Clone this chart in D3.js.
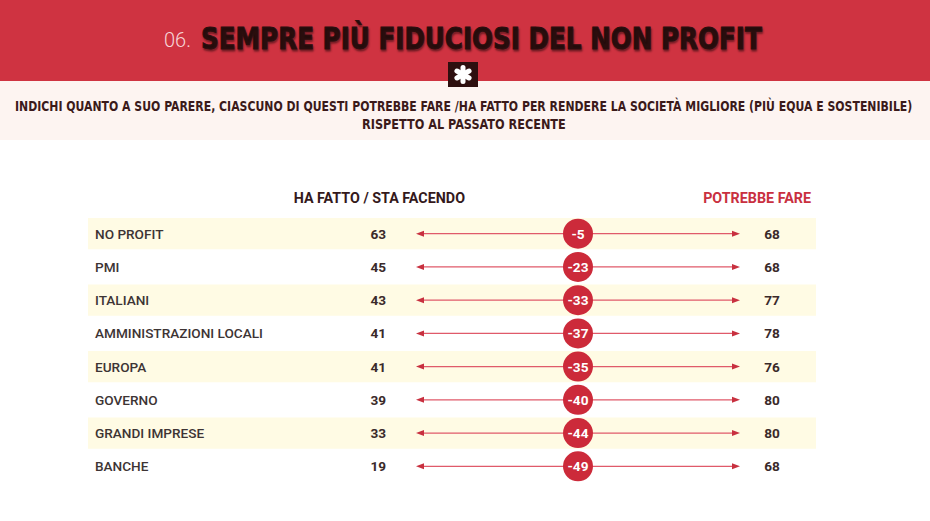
<!DOCTYPE html>
<html><head><meta charset="utf-8">
<script src="https://cdn.jsdelivr.net/npm/d3@7"></script>
<style>
html,body{margin:0;padding:0;background:#fff;}
svg{display:block;}
</style></head>
<body>
<svg id="chart" width="930" height="521"></svg>
<script>
const categories = ["NO PROFIT","PMI","ITALIANI","AMMINISTRAZIONI LOCALI","EUROPA","GOVERNO","GRANDI IMPRESE","BANCHE"];
const haFatto = [63,45,43,41,41,39,33,19];
const potrebbeFare = [68,68,77,78,76,80,80,68];
const differenza = [-5,-23,-33,-37,-35,-40,-44,-49];
const columnHeaders = ["HA FATTO / STA FACENDO","POTREBBE FARE"];
const titleNum = "06.";
const titleText = "SEMPRE PIÙ FIDUCIOSI DEL NON PROFIT";
const subtitle = ["INDICHI QUANTO A SUO PARERE, CIASCUNO DI QUESTI POTREBBE FARE /HA FATTO PER RENDERE LA SOCIETÀ MIGLIORE (PIÙ EQUA E SOSTENIBILE)","RISPETTO AL PASSATO RECENTE"];

const W = 930, H = 521;
const svg = d3.select("#chart");
const RED = "#cf3341", DARK = "#3b1a1a";
const condensed = "'DejaVu Sans Condensed','Liberation Sans Narrow',sans-serif";
const body = "Roboto,'Open Sans',sans-serif";

// fit a text horizontally to a target width by scaling
function fitX(sel, x0, targetW, anchor){
  const n = sel.node();
  const w = n.getComputedTextLength();
  const s = targetW / w;
  const y0 = +sel.attr("y");
  sel.attr("x",0).attr("y",0).attr("text-anchor","start");
  const left = anchor === "middle" ? x0 - targetW/2 : x0;
  sel.attr("transform",`translate(${left},${y0}) scale(${s},1)`);
}

// header
svg.append("rect").attr("x",0).attr("y",0).attr("width",W).attr("height",81).attr("fill",RED);
svg.append("rect").attr("x",0).attr("y",81).attr("width",W).attr("height",59).attr("fill","#fdf4f1");
svg.append("text").attr("x",164).attr("y",47).attr("font-family",body).attr("font-size",20)
  .attr("font-weight",300).attr("fill","#f7d6d8").text(titleNum);
const t = svg.append("text").attr("y",49).attr("font-family",condensed)
  .attr("font-size",30).attr("font-weight",700).attr("fill","#2b0e0e")
  .attr("stroke","#2b0e0e").attr("stroke-width",0.9)
  .style("text-shadow","1px 2px 2px rgba(0,0,0,0.4)").text(titleText);
fitX(t, 201, 561, "start");
// asterisk box
svg.append("rect").attr("x",448).attr("y",62).attr("width",30).attr("height",25).attr("fill","#2e0f0f");
const ast = svg.append("g").attr("transform","translate(463,74.5)");
ast.selectAll("line").data([0,60,120]).join("line")
  .attr("x1",0).attr("y1",-7).attr("x2",0).attr("y2",7)
  .attr("transform",d=>`rotate(${d})`)
  .attr("stroke","#fff").attr("stroke-width",5).attr("stroke-linecap","round");
// subtitle
const s1 = svg.append("text").attr("y",111).attr("font-family",condensed).attr("font-size",14.5)
  .attr("font-weight",700).attr("fill",DARK).text(subtitle[0]);
fitX(s1, 15, 898, "start");
const s2 = svg.append("text").attr("y",129).attr("font-family",condensed).attr("font-size",14.5)
  .attr("font-weight",700).attr("fill",DARK).text(subtitle[1]);
fitX(s2, 464, 204, "middle");

// rows
const y = d3.scaleBand().domain(categories).range([218,482]).paddingInner(0.06);
const rows = svg.append("g").selectAll("g").data(categories).join("g")
  .attr("transform",d=>`translate(0,${y(d)+y.bandwidth()/2})`);

rows.filter((d,i)=>i%2===0).append("rect").attr("x",88).attr("y",-y.bandwidth()/2).attr("width",728)
  .attr("height",y.bandwidth()).attr("fill","#fffbe4");

svg.append("text").attr("x",465).attr("y",203).attr("text-anchor","end").attr("font-family",body)
  .attr("font-size",14.3).attr("font-weight",700).attr("fill","#34191b").text(columnHeaders[0]);
svg.append("text").attr("x",811).attr("y",203).attr("text-anchor","end").attr("font-family",body)
  .attr("font-size",14.3).attr("font-weight",700).attr("fill","#c9303f").text(columnHeaders[1]);

rows.append("text").attr("x",95).attr("dy","0.36em").attr("font-family",body).attr("font-size",13.6)
  .attr("font-weight",500).attr("fill","#3d3434").text(d=>d);
rows.append("text").attr("x",386).attr("dy","0.36em").attr("text-anchor","end").attr("font-family",body)
  .attr("font-size",13.6).attr("font-weight",700).attr("fill","#3a2a2a").text((d,i)=>haFatto[i]);
rows.append("text").attr("x",772).attr("dy","0.36em").attr("text-anchor","middle").attr("font-family",body)
  .attr("font-size",13.6).attr("font-weight",700).attr("fill","#3a2a2a").text((d,i)=>potrebbeFare[i]);

// arrows
rows.append("line").attr("x1",420).attr("x2",736).attr("y1",0).attr("y2",0).attr("stroke","#e05a6a").attr("stroke-width",1.2);
rows.append("path").attr("d","M416,0 L424,-3 L424,3Z").attr("fill","#c8303f");
rows.append("path").attr("d","M740,0 L732,-3 L732,3Z").attr("fill","#c8303f");
rows.append("circle").attr("cx",578).attr("cy",0).attr("r",15).attr("fill","#cc2a3a");
rows.append("text").attr("x",578).attr("dy","0.36em").attr("text-anchor","middle").attr("font-family",body)
  .attr("font-size",13.6).attr("font-weight",700).attr("fill","#fff").text((d,i)=>differenza[i]);
</script>
</body></html>
